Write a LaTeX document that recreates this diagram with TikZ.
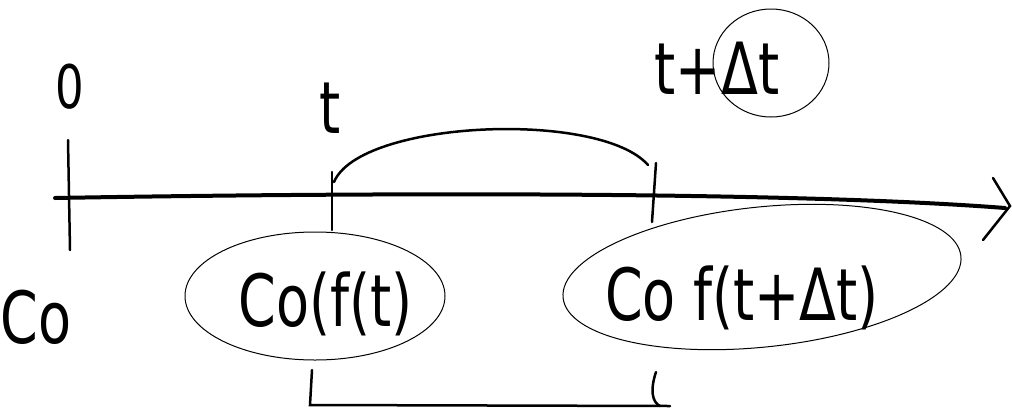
\documentclass[tikz,border=0pt]{standalone}
\usepackage{fontspec}
\setmainfont{DejaVu Sans}
\newcommand{\hw}[1]{\scalebox{0.75}[1]{#1}}
\begin{document}
\begin{tikzpicture}[x=1pt,y=-1pt,
  lbl/.style={inner sep=0pt,anchor=base,font=\fontsize{72}{80}\selectfont},
  tick/.style={line width=2.5pt,line cap=round},
  axisline/.style={line width=4pt,line cap=round},
  ring/.style={line width=1pt}]
\useasboundingbox (0,0) rectangle (1012,413);
% axis
\coordinate (a0) at (55,198);
\coordinate (aE) at (1005,208);
\draw[axisline] (a0) .. controls (400,192) and (800,192) .. (aE);
\coordinate (h1) at (993,178);
\coordinate (h2) at (1010,206);
\coordinate (h3) at (983,240);
\draw[tick] (h1) -- (h2) -- (h3);
% ticks
\coordinate (t0a) at (68,140); \coordinate (t0b) at (70,250);
\coordinate (t1a) at (332,172); \coordinate (t1b) at (332,230);
\coordinate (t2a) at (656,163); \coordinate (t2b) at (652,222);
\draw[tick] (t0a) -- (t0b);
\draw[tick] (t1a) -- (t1b);
\draw[tick] (t2a) -- (t2b);
% arc
\coordinate (c1) at (334,182);
\coordinate (c2) at (648,165);
\draw[tick] (c1) .. controls (360,120) and (600,110) .. (c2);
% labels
\node[inner sep=0pt,anchor=base,font=\fontsize{60}{66}\selectfont] (l0) at (70,108) {\hw{0}};
\node[lbl] (lt) at (330,133) {\hw{t}};
\node[lbl] (ltd) at (717,94) {\hw{t+Δt}};
\node[lbl] (lc) at (36,343) {\hw{Co}};
% circle around Delta t
\draw[ring] (771,63) ellipse [x radius=58,y radius=54];
% ellipses with text
\node[lbl] (e1) at (326,326) {\hw{Co(f(t)}};
\draw[ring] (315,296) ellipse [x radius=130,y radius=64];
\node[lbl] (e2) at (742,320) {\hw{Co f(t+Δt)}};
\draw[ring,rotate around={6:(762,277)}] (762,277) ellipse [x radius=200,y radius=70];
% bottom bracket
\coordinate (b1) at (312,370);
\coordinate (b2) at (310,405);
\coordinate (b3) at (670,406);
\coordinate (b4) at (656,372);
\draw[tick] (b1) -- (b2) -- (b3);
\draw[tick] (b4) .. controls (650,390) and (652,402) .. (660,406);
\end{tikzpicture}
\end{document}
